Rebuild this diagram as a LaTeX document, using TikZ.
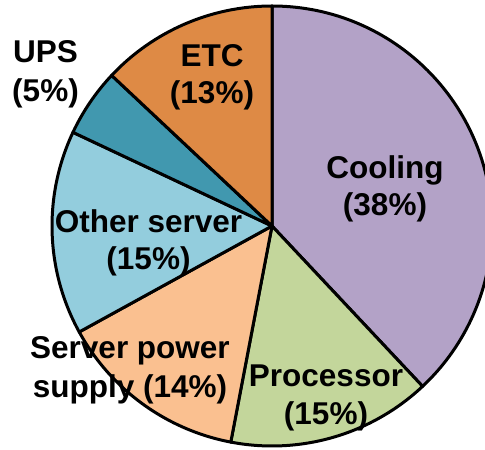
\documentclass[tikz,border=0pt]{standalone}
\usepackage{fontspec}
\setmainfont{Liberation Sans}
\definecolor{ccool}{HTML}{B3A2C7}
\definecolor{cproc}{HTML}{C3D69B}
\definecolor{csps}{HTML}{FAC090}
\definecolor{cother}{HTML}{93CDDD}
\definecolor{cups}{HTML}{4198AF}
\definecolor{cetc}{HTML}{DE8A45}
\begin{document}
\begin{tikzpicture}[x=1pt,y=1pt,
  slice/.style={draw=black,line width=3pt,line join=round},
  lbl/.style={inner sep=0pt,anchor=base,font=\fontsize{31.5}{37}\selectfont\bfseries}]
\useasboundingbox (0,0) rectangle (485,450);
\clip (0,0) rectangle (485,450);
\coordinate (O) at (272,224);
\def\R{220}
\filldraw[slice,fill=ccool]  (O) -- ++(90:\R)     arc[start angle=90,     end angle=-46.8,  radius=\R] -- cycle;
\filldraw[slice,fill=cproc]  (O) -- ++(-46.8:\R)  arc[start angle=-46.8,  end angle=-100.8, radius=\R] -- cycle;
\filldraw[slice,fill=csps]   (O) -- ++(-100.8:\R) arc[start angle=-100.8, end angle=-151.2, radius=\R] -- cycle;
\filldraw[slice,fill=cother] (O) -- ++(-151.2:\R) arc[start angle=-151.2, end angle=-205.2, radius=\R] -- cycle;
\filldraw[slice,fill=cups]   (O) -- ++(-205.2:\R) arc[start angle=-205.2, end angle=-223.2, radius=\R] -- cycle;
\filldraw[slice,fill=cetc]   (O) -- ++(-223.2:\R) arc[start angle=-223.2, end angle=-270,   radius=\R] -- cycle;
\node[lbl] (ups1) at (45.5,387) {UPS};
\node[lbl] (ups2) at (45.5,348) {(5\%)};
\node[lbl] (etc1) at (212,383) {ETC};
\node[lbl] (etc2) at (212,346) {(13\%)};
\node[lbl] (cool1) at (385,271) {Cooling};
\node[lbl] (cool2) at (385,234) {(38\%)};
\node[lbl] (oth1) at (148.5,217) {Other server};
\node[lbl] (oth2) at (148.5,180) {(15\%)};
\node[lbl] (sps1) at (130,91) {Server power};
\node[lbl] (sps2) at (130,52) {supply (14\%)};
\node[lbl] (proc1) at (326,63) {Processor};
\node[lbl] (proc2) at (326,25) {(15\%)};
\end{tikzpicture}
\end{document}
